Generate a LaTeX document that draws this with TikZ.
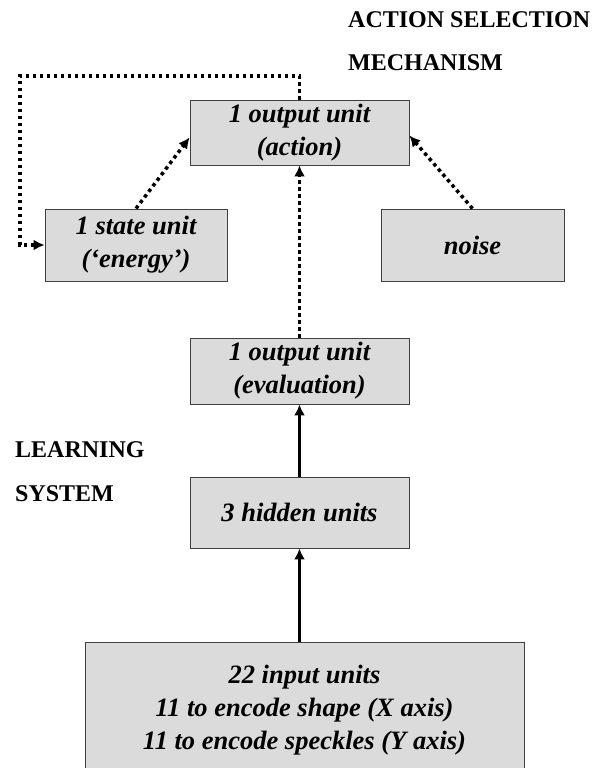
\documentclass[tikz,border=0pt]{standalone}
\usepackage{fontspec}
\setmainfont{Liberation Serif}
\usetikzlibrary{arrows.meta}

\begin{document}
\begin{tikzpicture}[x=1pt, y=-1pt,
    unit/.style={draw=black!75, fill=black!14, line width=0.9pt,
        font=\bfseries\itshape\fontsize{26.5}{33}\selectfont,
        align=center, inner sep=0pt},
    heading/.style={anchor=west, inner sep=0pt,
        font=\bfseries\fontsize{24}{26}\selectfont},
    link/.style={line width=3.5pt, -{Latex[length=11pt,width=11pt]}},
    dotlink/.style={line width=3.5pt, dash pattern=on 3.5pt off 3.5pt,
        -{Latex[length=11pt,width=11pt]}}
]
    \useasboundingbox (0,0) rectangle (593,768);

    \node[heading] (asm1) at (348,20) {ACTION SELECTION};
    \node[heading] (asm2) at (348,63) {MECHANISM};
    \node[heading] (ls1) at (15,450) {LEARNING};
    \node[heading] (ls2) at (15,494) {SYSTEM};

    \node[unit, minimum width=219pt, minimum height=65pt] (action) at (299.5,132.5) {1 output unit\\(action)};
    \node[unit, minimum width=182pt, minimum height=72pt] (state) at (136,245) {1 state unit\\(`energy')};
    \node[unit, minimum width=183pt, minimum height=72pt] (noise) at (472.5,245) {noise};
    \node[unit, minimum width=219pt, minimum height=66pt] (eval) at (299.5,371) {1 output unit\\(evaluation)};
    \node[unit, minimum width=219pt, minimum height=71pt] (hidden) at (299.5,512.5) {3 hidden units};
    \node[unit, minimum width=439pt, minimum height=136pt] (input) at (304.5,710)
        {22 input units\\11 to encode shape (X axis)\\11 to encode speckles (Y axis)};

    \coordinate (loop) at (20,76);

    \draw[dotlink] (action.north) |- (loop) |- (state.west);
    \draw[dotlink] (state.north) -- ([yshift=-5pt]action.west);
    \draw[dotlink] (noise.north) -- ([yshift=-3pt]action.east);
    \draw[dotlink] (eval.north) -- (action.south);
    \draw[link] (hidden.north) -- (eval.south);
    \draw[link] (hidden.south |- input.north) -- (hidden.south);
\end{tikzpicture}
\end{document}
